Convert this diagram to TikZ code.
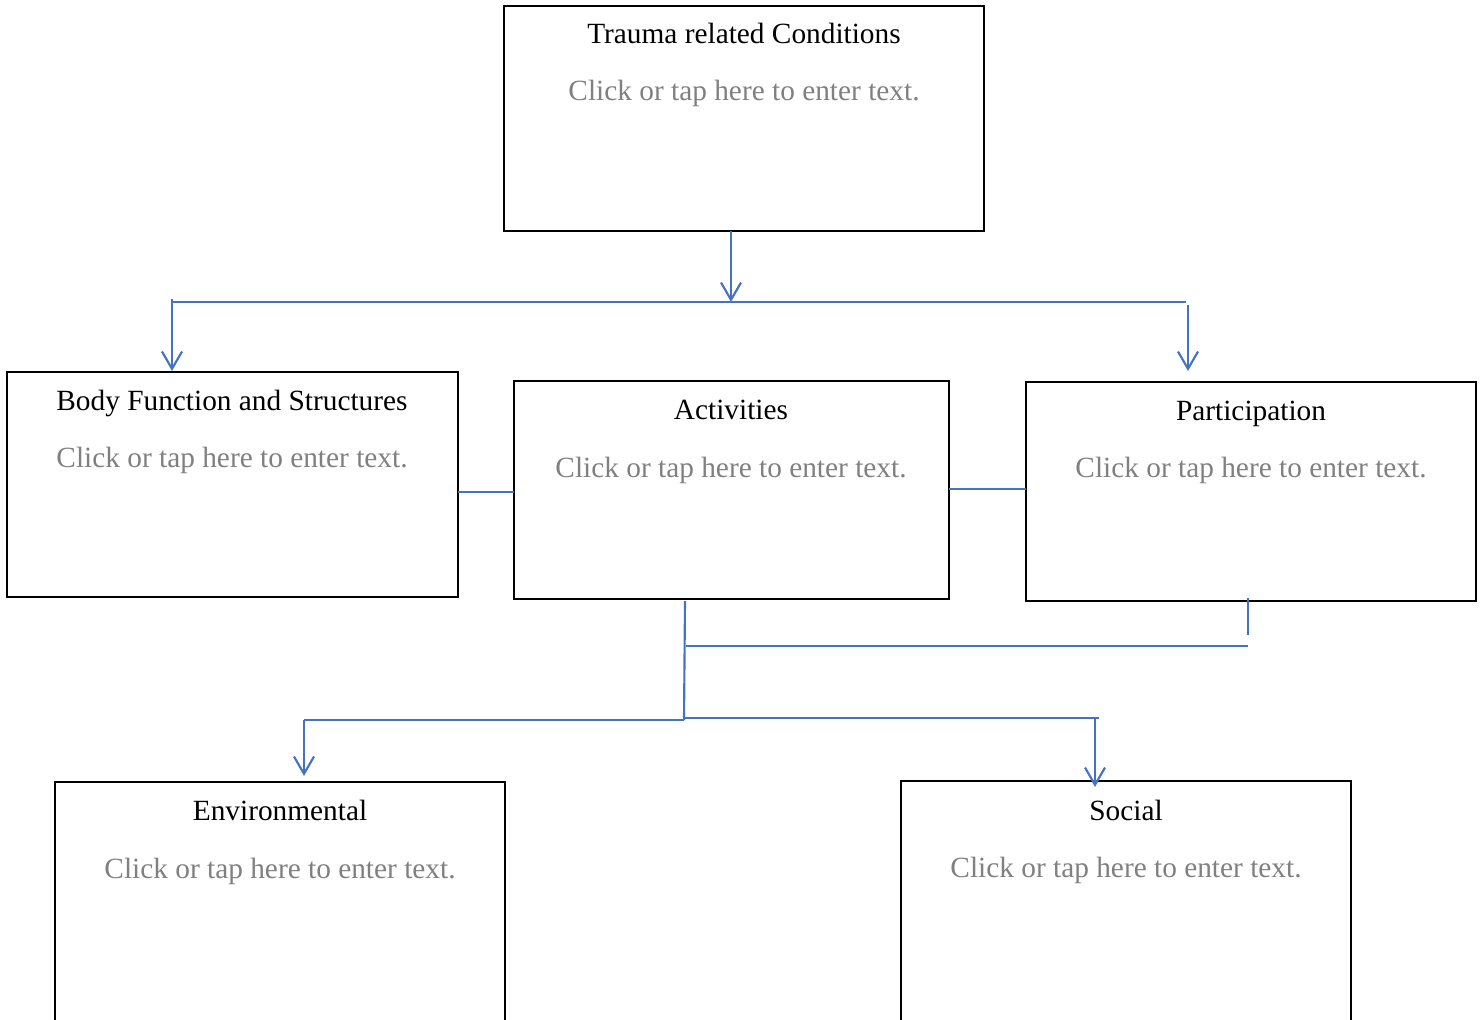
\documentclass[tikz,border=0pt]{standalone}
\usepackage{fontspec}
\setmainfont{Liberation Serif}
\usetikzlibrary{arrows.meta}
\definecolor{linkblue}{HTML}{4472C4}
\definecolor{hintgray}{HTML}{808080}
\tikzset{
  box/.style={draw=black, line width=1.1pt},
  ttl/.style={anchor=base, inner sep=0pt, font=\fontsize{22pt}{26pt}\selectfont},
  hint/.style={anchor=base, inner sep=0pt, text=hintgray, font=\fontsize{22pt}{26pt}\selectfont},
  conn/.style={draw=linkblue, line width=1.6pt},
  arr/.style={conn, -{Straight Barb[length=13pt, width=15pt, line width=1.6pt]}},
}
\begin{document}
\begin{tikzpicture}[x=0.75pt, y=-0.75pt]
\useasboundingbox (0,0) rectangle (1481,1020);
% boxes
\draw[box] (504,6) rectangle (984,231);
\draw[box] (7,372) rectangle (458,597);
\draw[box] (514,381) rectangle (949,599);
\draw[box] (1026,382) rectangle (1476,601);
\draw[box] (55,782) rectangle (505,1040);
\draw[box] (901,781) rectangle (1351,1040);
% texts
\node[ttl]  (t1) at (744,44) {Trauma related Conditions};
\node[hint] (h1) at (744,101) {Click or tap here to enter text.};
\node[ttl]  (t2) at (232,410) {Body Function and Structures};
\node[hint] (h2) at (232,467) {Click or tap here to enter text.};
\node[ttl]  (t3) at (731,419) {Activities};
\node[hint] (h3) at (731,477) {Click or tap here to enter text.};
\node[ttl]  (t4) at (1251,420) {Participation};
\node[hint] (h4) at (1251,477) {Click or tap here to enter text.};
\node[ttl]  (t5) at (280,820) {Environmental};
\node[hint] (h5) at (280,878) {Click or tap here to enter text.};
\node[ttl]  (t6) at (1126,820) {Social};
\node[hint] (h6) at (1126,877) {Click or tap here to enter text.};
% coordinates
\coordinate (a1) at (731,231);
\coordinate (a2) at (731,302);
\coordinate (hl) at (172,302);
\coordinate (hr) at (1186,302);
\coordinate (l1) at (172,299);
\coordinate (l2) at (172,371);
\coordinate (r1) at (1188,305);
\coordinate (r2) at (1188,371);
\coordinate (b1) at (458,492);
\coordinate (b2) at (514,492);
\coordinate (c1) at (949,489);
\coordinate (c2) at (1026,489);
\coordinate (v1) at (685,601);
\coordinate (v2) at (684,720);
\coordinate (p1) at (1248,598);
\coordinate (p2) at (1248,635);
\coordinate (q1) at (686,646);
\coordinate (q2) at (1248,646);
\coordinate (e1) at (304,720);
\coordinate (s1) at (684,718);
\coordinate (s2) at (1099,718);
\coordinate (ea) at (304,776);
\coordinate (sa0) at (1095,718);
\coordinate (sa) at (1095,787);
% connectors
\draw[arr] (a1) -- (a2);
\draw[conn] (hl) -- (hr);
\draw[arr] (l1) -- (l2);
\draw[arr] (r1) -- (r2);
\draw[conn] (b1) -- (b2);
\draw[conn] (c1) -- (c2);
\draw[conn] (v1) -- (v2);
\draw[conn] (p1) -- (p2);
\draw[conn] (q1) -- (q2);
\draw[conn] (e1) -- (v2);
\draw[conn] (s1) -- (s2);
\draw[arr] (e1) -- (ea);
\draw[arr] (sa0) -- (sa);
\end{tikzpicture}
\end{document}
